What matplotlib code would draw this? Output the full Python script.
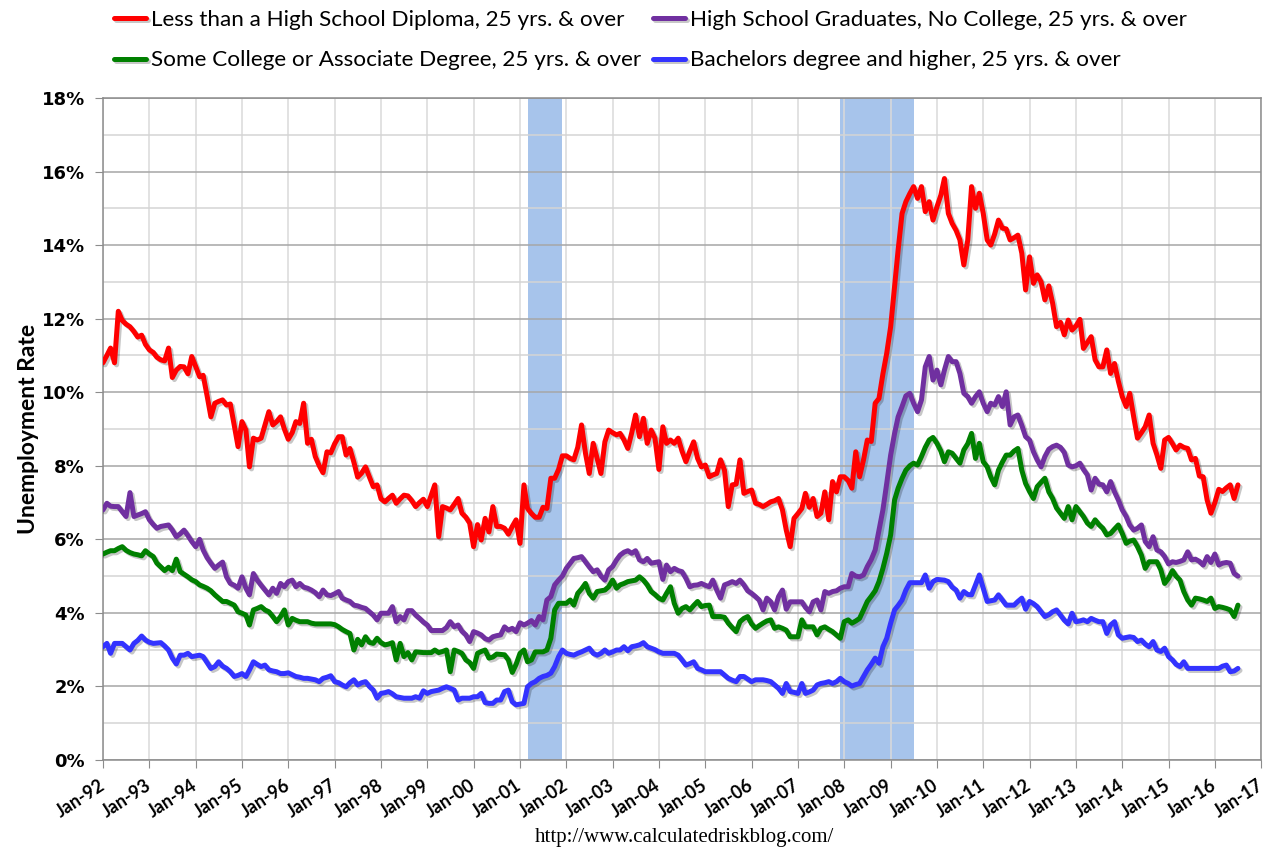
import numpy as np
import pandas as pd
import matplotlib
matplotlib.use("Agg")
import matplotlib.pyplot as plt
import matplotlib.dates as mdates
import matplotlib.patheffects as pe
from matplotlib.ticker import MultipleLocator, PercentFormatter

# monthly unemployment rate (%), Jan 1992 - Jul 2016, one row per year
first_month = "1992-01-01"

less_hs = [
    10.8, 11.0, 11.2, 10.8, 12.2, 11.95, 11.85, 11.78, 11.65, 11.5, 11.55, 11.3,
    11.15, 11.08, 10.95, 10.88, 10.85, 11.2, 10.4, 10.6, 10.7, 10.69, 10.5, 10.97,
    10.7, 10.42, 10.46, 9.9, 9.33, 9.7, 9.75, 9.79, 9.65, 9.68, 9.1, 8.52,
    9.2, 8.97, 7.97, 8.75, 8.7, 8.75, 9.1, 9.47, 9.11, 9.2, 9.33, 9.0,
    8.72, 8.9, 9.2, 9.15, 9.7, 8.61, 8.72, 8.25, 8.0, 7.81, 8.38, 8.35,
    8.6, 8.79, 8.79, 8.29, 8.47, 8.1, 7.69, 7.8, 7.97, 7.7, 7.43, 7.48,
    7.1, 7.02, 7.11, 7.2, 6.98, 7.1, 7.2, 7.18, 7.05, 6.89, 7.0, 7.09,
    6.89, 7.2, 7.48, 6.07, 6.89, 6.85, 6.8, 6.95, 7.11, 6.71, 6.6, 6.44,
    5.8, 6.4, 5.98, 6.57, 6.2, 6.89, 6.35, 6.35, 6.3, 6.14, 6.35, 6.53,
    5.89, 7.48, 6.84, 6.7, 6.6, 6.6, 6.87, 6.84, 7.66, 7.66, 7.9, 8.27,
    8.27, 8.2, 8.16, 8.5, 9.11, 8.34, 7.79, 8.61, 8.2, 7.79, 8.65, 8.97,
    8.9, 8.84, 8.88, 8.7, 8.47, 8.9, 9.38, 8.79, 9.29, 8.61, 8.97, 8.75,
    7.9, 9.06, 8.61, 8.7, 8.61, 8.75, 8.4, 8.11, 8.4, 8.65, 8.2, 7.97,
    8.02, 7.7, 7.75, 7.79, 8.16, 7.88, 6.89, 7.48, 7.5, 8.16, 7.25, 7.3,
    7.34, 6.98, 6.95, 6.89, 6.95, 7.02, 7.05, 7.11, 6.8, 6.25, 5.8, 6.57,
    6.7, 6.84, 7.25, 6.87, 7.11, 6.62, 6.71, 7.29, 6.53, 7.57, 7.29, 7.7,
    7.7, 7.6, 7.39, 8.38, 7.7, 8.16, 8.7, 8.66, 9.7, 9.83, 10.5, 11.06,
    11.78, 12.87, 13.87, 14.86, 15.18, 15.4, 15.59, 15.27, 15.59, 14.91, 15.18, 14.68,
    15.04, 15.36, 15.81, 14.86, 14.59, 14.4, 14.14, 13.46, 14.14, 15.59, 15.0, 15.41,
    14.86, 14.14, 14.0, 14.3, 14.68, 14.46, 14.44, 14.14, 14.2, 14.27, 13.78, 12.78,
    13.68, 12.96, 13.19, 13.0, 12.51, 12.89, 12.42, 11.78, 11.9, 11.56, 11.96, 11.69,
    11.8, 11.98, 11.19, 11.35, 11.51, 10.88, 10.69, 10.69, 11.15, 10.51, 10.78, 10.3,
    9.88, 9.61, 9.97, 9.33, 8.75, 8.9, 9.06, 9.38, 8.61, 8.3, 7.93, 8.7,
    8.77, 8.6, 8.43, 8.56, 8.5, 8.47, 8.16, 8.2, 7.72, 7.7, 7.07, 6.71,
    7.0, 7.36, 7.3, 7.4, 7.48, 7.11, 7.48,
]

hs_grad = [
    6.8, 6.98, 6.9, 6.89, 6.89, 6.75, 6.62, 7.27, 6.62, 6.66, 6.7, 6.75,
    6.53, 6.4, 6.3, 6.35, 6.37, 6.39, 6.25, 6.07, 6.15, 6.25, 6.1, 5.94,
    5.8, 6.0, 5.71, 5.5, 5.35, 5.21, 5.3, 5.38, 4.98, 4.8, 4.75, 4.67,
    4.98, 4.67, 4.49, 5.07, 4.89, 4.75, 4.62, 4.49, 4.67, 4.53, 4.8, 4.71,
    4.85, 4.89, 4.71, 4.8, 4.7, 4.67, 4.62, 4.55, 4.44, 4.62, 4.49, 4.47,
    4.52, 4.58, 4.4, 4.35, 4.31, 4.21, 4.19, 4.15, 4.12, 4.03, 3.94, 3.81,
    3.99, 3.99, 3.99, 4.17, 3.76, 3.9, 3.81, 4.06, 4.06, 3.94, 3.85, 3.75,
    3.67, 3.52, 3.52, 3.52, 3.52, 3.6, 3.76, 3.62, 3.67, 3.5, 3.4, 3.22,
    3.49, 3.45, 3.4, 3.3, 3.26, 3.35, 3.38, 3.4, 3.62, 3.53, 3.58, 3.49,
    3.73, 3.67, 3.72, 3.79, 3.67, 3.9, 3.81, 4.35, 4.44, 4.76, 4.89, 5.0,
    5.21, 5.35, 5.48, 5.5, 5.53, 5.39, 5.25, 5.12, 5.17, 5.0, 4.89, 5.17,
    5.26, 5.44, 5.57, 5.65, 5.69, 5.62, 5.69, 5.44, 5.39, 5.48, 5.35, 5.37,
    5.39, 4.91, 5.3, 5.12, 5.21, 5.15, 5.12, 4.94, 4.71, 4.75, 4.76, 4.8,
    4.75, 4.71, 4.89, 4.62, 4.4, 4.76, 4.8, 4.85, 4.8, 4.89, 4.76, 4.6,
    4.53, 4.44, 4.35, 4.08, 4.4, 4.3, 4.08, 4.44, 4.62, 4.1, 4.3, 4.3,
    4.3, 4.3, 4.15, 4.03, 4.3, 4.35, 4.08, 4.58, 4.53, 4.58, 4.6, 4.67,
    4.71, 4.71, 5.07, 5.0, 4.98, 5.03, 5.26, 5.45, 5.71, 6.25, 6.8, 7.52,
    8.29, 8.88, 9.33, 9.61, 9.9, 9.97, 9.7, 9.47, 9.79, 10.69, 10.97, 10.33,
    10.6, 10.2, 10.6, 10.97, 10.83, 10.83, 10.51, 9.97, 9.88, 9.7, 9.88, 10.01,
    9.7, 9.47, 9.7, 9.65, 9.88, 9.61, 10.01, 9.11, 9.33, 9.38, 9.1, 8.79,
    8.7, 8.38, 8.16, 7.97, 8.25, 8.45, 8.52, 8.56, 8.5, 8.36, 8.02, 7.97,
    8.0, 8.07, 7.9, 7.75, 7.34, 7.66, 7.5, 7.48, 7.29, 7.57, 7.29, 7.07,
    6.8, 6.62, 6.39, 6.25, 6.3, 6.39, 5.94, 5.8, 6.07, 5.71, 5.66, 5.53,
    5.33, 5.39, 5.37, 5.4, 5.44, 5.66, 5.44, 5.46, 5.4, 5.3, 5.53, 5.37,
    5.6, 5.3, 5.35, 5.37, 5.35, 5.07, 5.0,
]

some_college = [
    5.6, 5.65, 5.69, 5.69, 5.75, 5.8, 5.7, 5.64, 5.6, 5.58, 5.55, 5.69,
    5.6, 5.53, 5.35, 5.25, 5.15, 5.24, 5.15, 5.46, 5.12, 5.05, 4.98, 4.9,
    4.85, 4.76, 4.72, 4.67, 4.6, 4.49, 4.4, 4.31, 4.31, 4.26, 4.21, 4.03,
    3.99, 3.94, 3.67, 4.08, 4.12, 4.17, 4.08, 4.03, 3.9, 3.76, 3.9, 4.08,
    3.67, 3.85, 3.8, 3.76, 3.76, 3.76, 3.72, 3.7, 3.7, 3.7, 3.7, 3.7,
    3.68, 3.62, 3.55, 3.49, 3.44, 2.99, 3.28, 3.13, 3.35, 3.2, 3.17, 3.31,
    3.19, 3.13, 3.15, 3.19, 2.72, 3.17, 2.81, 2.92, 2.72, 2.94, 2.93, 2.92,
    2.92, 2.92, 2.99, 2.92, 2.95, 2.99, 2.4, 2.99, 2.95, 2.9, 2.72, 2.65,
    2.49, 2.9, 2.95, 2.99, 2.77, 2.8, 2.88, 2.87, 2.86, 2.72, 2.38, 2.6,
    2.9, 2.99, 2.67, 2.72, 2.94, 2.94, 2.94, 2.99, 3.31, 4.08, 4.26, 4.26,
    4.26, 4.35, 4.21, 4.53, 4.65, 4.8, 4.53, 4.4, 4.58, 4.6, 4.62, 4.71,
    4.89, 4.67, 4.76, 4.8, 4.85, 4.87, 4.89, 4.98, 4.89, 4.76, 4.58, 4.5,
    4.4, 4.35, 4.53, 4.71, 4.26, 3.99, 4.12, 4.17, 4.08, 4.2, 4.31, 4.17,
    4.2, 4.21, 3.9, 3.9, 3.9, 3.88, 3.72, 3.6, 3.49, 3.76, 3.85, 3.9,
    3.7, 3.58, 3.65, 3.72, 3.78, 3.81, 3.58, 3.62, 3.58, 3.53, 3.35, 3.35,
    3.35, 3.81, 3.62, 3.62, 3.62, 3.4, 3.58, 3.62, 3.55, 3.49, 3.4, 3.31,
    3.76, 3.81, 3.72, 3.78, 3.85, 4.08, 4.31, 4.45, 4.6, 4.85, 5.21, 5.62,
    6.12, 7.07, 7.39, 7.66, 7.88, 8.0, 8.07, 8.02, 8.25, 8.5, 8.7, 8.77,
    8.61, 8.4, 8.11, 8.38, 8.34, 8.2, 8.07, 8.43, 8.6, 8.88, 8.2, 8.61,
    8.11, 7.97, 7.7, 7.48, 7.88, 8.1, 8.29, 8.29, 8.4, 8.47, 7.88, 7.52,
    7.3, 7.11, 7.43, 7.55, 7.66, 7.29, 7.11, 6.85, 6.71, 6.57, 6.89, 6.53,
    6.89, 6.75, 6.62, 6.44, 6.35, 6.53, 6.4, 6.3, 6.12, 6.16, 6.28, 6.39,
    6.16, 5.89, 5.95, 5.98, 5.8, 5.57, 5.21, 5.39, 5.39, 5.39, 5.17, 4.8,
    4.94, 5.15, 5.0, 4.89, 4.58, 4.35, 4.21, 4.4, 4.38, 4.35, 4.31, 4.4,
    4.12, 4.17, 4.15, 4.12, 4.08, 3.9, 4.21,
]

bachelors = [
    3.08, 3.17, 2.9, 3.17, 3.17, 3.17, 3.08, 2.99, 3.17, 3.25, 3.37, 3.26,
    3.2, 3.17, 3.18, 3.19, 3.1, 2.99, 2.77, 2.61, 2.85, 2.85, 2.9, 2.81,
    2.83, 2.85, 2.81, 2.65, 2.49, 2.54, 2.67, 2.55, 2.49, 2.4, 2.27, 2.3,
    2.35, 2.27, 2.45, 2.67, 2.6, 2.54, 2.58, 2.45, 2.42, 2.4, 2.35, 2.35,
    2.37, 2.32, 2.27, 2.25, 2.22, 2.22, 2.2, 2.18, 2.13, 2.22, 2.25, 2.29,
    2.13, 2.1, 2.04, 1.99, 2.1, 2.18, 2.04, 2.1, 2.13, 2.0, 1.9, 1.68,
    1.81, 1.83, 1.86, 1.8, 1.72, 1.7, 1.68, 1.68, 1.68, 1.72, 1.68, 1.88,
    1.81, 1.86, 1.88, 1.9, 1.95, 1.99, 1.95, 1.9, 1.63, 1.68, 1.68, 1.68,
    1.72, 1.72, 1.81, 1.56, 1.54, 1.54, 1.63, 1.63, 1.86, 1.9, 1.58, 1.5,
    1.52, 1.54, 1.99, 2.08, 2.13, 2.22, 2.27, 2.3, 2.36, 2.54, 2.81, 2.99,
    2.9, 2.87, 2.85, 2.9, 2.94, 2.99, 3.04, 2.9, 2.85, 2.9, 2.99, 2.9,
    2.94, 2.99, 2.99, 3.08, 2.97, 3.08, 3.1, 3.13, 3.19, 3.08, 3.04, 3.0,
    2.94, 2.9, 2.9, 2.9, 2.9, 2.85, 2.72, 2.58, 2.62, 2.67, 2.49, 2.45,
    2.4, 2.4, 2.4, 2.4, 2.4, 2.31, 2.22, 2.17, 2.13, 2.27, 2.27, 2.2,
    2.13, 2.18, 2.18, 2.18, 2.16, 2.13, 2.04, 1.95, 1.81, 2.08, 1.86, 1.84,
    1.81, 2.08, 1.81, 1.85, 1.9, 2.04, 2.08, 2.1, 2.13, 2.08, 2.13, 2.22,
    2.13, 2.08, 2.01, 2.05, 2.08, 2.27, 2.45, 2.6, 2.77, 2.63, 3.08, 3.31,
    3.72, 4.08, 4.2, 4.35, 4.62, 4.82, 4.82, 4.82, 4.82, 5.03, 4.67, 4.85,
    4.91, 4.9, 4.89, 4.85, 4.7, 4.62, 4.4, 4.58, 4.5, 4.49, 4.76, 5.03,
    4.67, 4.31, 4.33, 4.35, 4.49, 4.35, 4.21, 4.21, 4.21, 4.31, 4.4, 4.1,
    4.31, 4.25, 4.17, 4.03, 3.9, 3.95, 4.03, 4.08, 3.94, 3.8, 3.7, 3.99,
    3.76, 3.78, 3.81, 3.76, 3.85, 3.8, 3.76, 3.76, 3.44, 3.67, 3.76, 3.4,
    3.31, 3.33, 3.35, 3.33, 3.22, 3.26, 3.15, 3.08, 3.22, 2.99, 2.95, 3.04,
    2.81, 2.72, 2.6, 2.54, 2.67, 2.49, 2.49, 2.49, 2.49, 2.49, 2.49, 2.49,
    2.49, 2.49, 2.55, 2.58, 2.4, 2.42, 2.49,
]

# recessions (shaded)
rec_start = ["2001-03-01", "2007-12-01"]
rec_end = ["2001-12-01", "2009-07-01"]

labels = [
    "Less than a High School Diploma, 25 yrs. & over",
    "High School Graduates, No College, 25 yrs. & over",
    "Some College or Associate Degree, 25 yrs. & over",
    "Bachelors degree and higher, 25 yrs. & over",
]
colors = ["#ff0000", "#7030a0", "#008000", "#3333ff"]
series = [less_hs, hs_grad, some_college, bachelors]

months = pd.date_range(first_month, periods=len(less_hs), freq="MS")

fig = plt.figure(figsize=(12.68, 8.52), dpi=100)
ax = fig.add_axes([0.0812, 0.108, 0.9135, 0.777])

for s, e in zip(rec_start, rec_end):
    ax.axvspan(pd.Timestamp(s), pd.Timestamp(e), color="#a7c4eb", lw=0, zorder=0.3)

shadow = [pe.SimpleLineShadow(offset=(1.5, -1.5), shadow_color="k", alpha=0.22), pe.Normal()]
lines = []
for vals, c in zip(series, colors):
    ln, = ax.plot(months, vals, color=c, lw=3.6, solid_joinstyle="round",
                  solid_capstyle="round", path_effects=shadow, zorder=3)
    lines.append(ln)

ax.set_xlim(pd.Timestamp("1992-01-01"), pd.Timestamp("2017-01-01"))
ax.set_ylim(0, 18)
ax.yaxis.set_major_locator(MultipleLocator(2))
ax.yaxis.set_minor_locator(MultipleLocator(1))
ax.yaxis.set_major_formatter(PercentFormatter(decimals=0))
ax.xaxis.set_major_locator(mdates.YearLocator())
ax.xaxis.set_major_formatter(mdates.DateFormatter("%b-%y"))

ax.set_axisbelow(True)
ax.grid(which="major", axis="y", color="#a6a6a6", lw=1.1)
ax.grid(which="minor", axis="y", color="#d4d4d4", lw=1.1)
ax.grid(which="major", axis="x", color="#dadada", lw=1.1)

for sp in ax.spines.values():
    sp.set_color("#8c8c8c")
    sp.set_linewidth(1.1)
ax.tick_params(axis="both", which="major", direction="out", length=6, color="#8c8c8c")
ax.tick_params(axis="y", which="minor", length=0)
ax.tick_params(axis="y", labelsize=13, pad=7)
ax.tick_params(axis="x", labelsize=13, pad=11)
for t in ax.get_yticklabels():
    t.set_fontweight("bold")
for t in ax.get_xticklabels():
    t.set_fontweight("bold")
    t.set_family("Lato")
    t.set_rotation(33)
    t.set_ha("right")
    t.set_va("center")
    t.set_rotation_mode("anchor")

ax.set_ylabel("Unemployment Rate", fontsize=16.5, fontweight="bold", family="Lato")
ax.yaxis.set_label_coords(-0.055, 0.5)

order = [0, 2, 1, 3]
fig.legend([lines[i] for i in order], [labels[i] for i in order],
           loc="upper left", bbox_to_anchor=(0.087, 0.992), ncol=2, frameon=False,
           prop={"family": "Lato", "size": 16.2}, handlelength=1.45, handletextpad=0.22,
           columnspacing=0.5, labelspacing=0.9, borderpad=0.15, borderaxespad=0)

fig.text(0.540, 0.006, "http://www.calculatedriskblog.com/", ha="center", va="bottom",
         family="Liberation Serif", fontsize=15)

fig.savefig("out.png", dpi=100)
